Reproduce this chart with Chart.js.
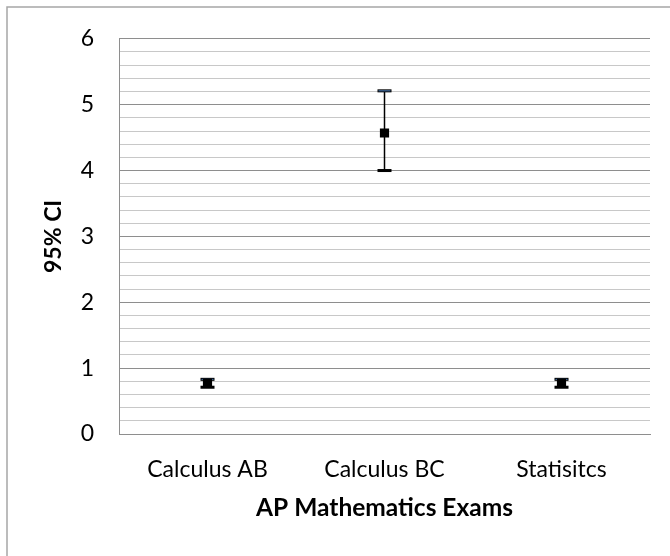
<!DOCTYPE html>
<html>
<head>
<meta charset="utf-8">
<title>AP Mathematics Exams - 95% CI</title>
<script src="https://cdn.jsdelivr.net/npm/chart.js@4.4.0/dist/chart.umd.min.js"></script>
<style>
    html, body { margin: 0; padding: 0; background: #ffffff; }
    #wrap { position: relative; width: 670px; height: 556px; }
</style>
</head>
<body>
<div id="wrap"><canvas id="chart"></canvas></div>
<script>
// データ
const exams = ['Calculus AB', 'Calculus BC', 'Statisitcs'];
const means = [0.77, 4.57, 0.77];
const lowers = [0.71, 4.0, 0.71];
const uppers = [0.83, 5.21, 0.83];
const yMajorTicks = [0, 1, 2, 3, 4, 5, 6];

const FONT = "Lato, 'Open Sans', sans-serif";

const isMajor = (v) => yMajorTicks.some((t) => Math.abs(t - v) < 1e-6);

// 外枠 (左と上の線のみ見えている)
const frame = {
    id: 'frame',
    beforeDraw: (chart) => {
        const ctx = chart.ctx;
        ctx.save();
        ctx.fillStyle = '#ffffff';
        ctx.fillRect(0, 0, chart.width, chart.height);
        ctx.strokeStyle = '#a6a6a6';
        ctx.lineWidth = 1.5;
        ctx.beginPath();
        ctx.moveTo(7, chart.height);
        ctx.lineTo(7, 7);
        ctx.lineTo(chart.width, 7);
        ctx.stroke();
        ctx.restore();
    },
};

// エラーバー描画
const errorBars = {
    id: 'errorBars',
    beforeDatasetsDraw: (chart) => {
        const ctx = chart.ctx;
        const xs = chart.scales.x;
        const ys = chart.scales.y;
        const capW = 14;
        const capH = 3;
        ctx.save();
        exams.forEach((_, i) => {
            const x = xs.getPixelForValue(i);
            const yLo = ys.getPixelForValue(lowers[i]);
            const yHi = ys.getPixelForValue(uppers[i]);
            ctx.strokeStyle = '#000000';
            ctx.lineWidth = 1.5;
            ctx.beginPath();
            ctx.moveTo(x, yLo);
            ctx.lineTo(x, yHi);
            ctx.stroke();
            // 下側キャップ
            ctx.fillStyle = '#000000';
            ctx.fillRect(x - capW / 2, yLo - capH / 2, capW, capH);
            // 上側キャップ (中が青っぽい)
            ctx.fillRect(x - capW / 2, yHi - capH / 2, capW, capH);
            ctx.fillStyle = '#4f81bd';
            ctx.fillRect(x - capW / 2 + 1, yHi - 0.5, capW - 2, 1);
        });
        ctx.restore();
    },
};

new Chart(document.getElementById('chart'), {
    type: 'line',
    data: {
        labels: exams,
        datasets: [
            {
                label: '95% CI',
                data: means,
                showLine: false,
                pointStyle: 'rect',
                pointRadius: 6.5,
                pointHoverRadius: 6.5,
                pointBackgroundColor: '#000000',
                pointBorderWidth: 0,
            },
        ],
    },
    options: {
        responsive: true,
        maintainAspectRatio: false,
        animation: false,
        events: [],
        layout: { padding: { top: 37, right: 20, left: 0, bottom: 0 } },
        plugins: {
            legend: { display: false },
            tooltip: { enabled: false },
        },
        scales: {
            x: {
                type: 'category',
                offset: true,
                grid: { display: false, drawTicks: false },
                border: { display: true, color: '#8e8e8e', width: 1 },
                ticks: {
                    color: '#000000',
                    font: { family: FONT, size: 23 },
                    padding: 22,
                    maxRotation: 0,
                    autoSkip: false,
                },
                title: {
                    display: true,
                    text: 'AP Mathematics Exams',
                    color: '#000000',
                    font: { family: FONT, size: 24.5, weight: 'bold' },
                    padding: { top: 0, bottom: 33 },
                },
                afterFit: (scale) => {
                    scale.height = 122;
                },
            },
            y: {
                min: 0,
                max: 6,
                grid: {
                    drawTicks: false,
                    color: (ctx) => (ctx.tick && isMajor(ctx.tick.value) ? '#8e8e8e' : '#c8c8c8'),
                    lineWidth: 1,
                },
                border: { display: true, color: '#8e8e8e', width: 1 },
                ticks: {
                    stepSize: 0.2,
                    autoSkip: false,
                    color: '#000000',
                    font: { family: FONT, size: 23 },
                    padding: 25,
                    callback: (v) => (isMajor(v) ? String(Math.round(v)) : ''),
                },
                title: {
                    display: true,
                    text: '95% CI',
                    color: '#000000',
                    font: { family: FONT, size: 23, weight: 'bold' },
                    padding: { top: 40, bottom: 0 },
                },
                afterFit: (scale) => {
                    scale.width = 119;
                },
            },
        },
    },
    plugins: [frame, errorBars],
});
</script>
</body>
</html>
